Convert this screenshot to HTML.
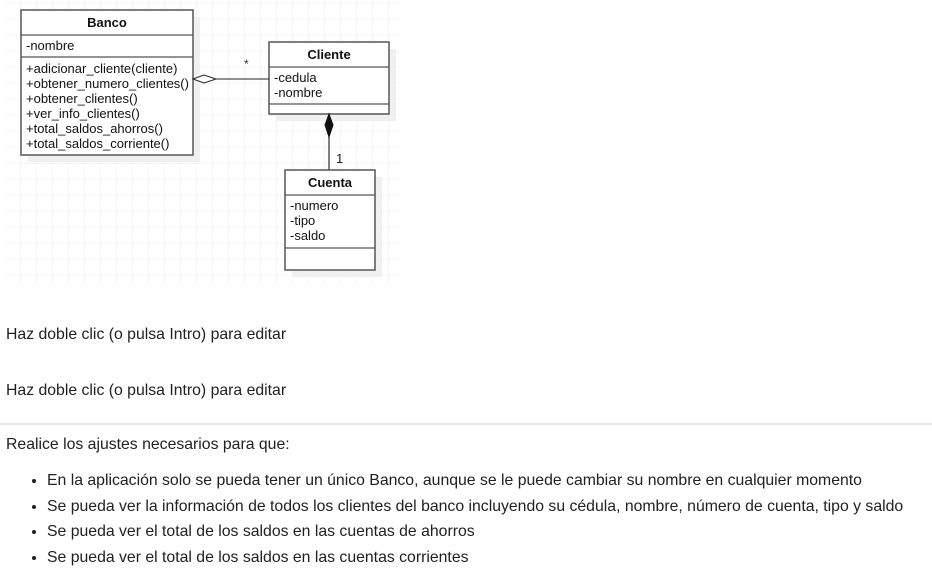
<!DOCTYPE html>
<html><head><meta charset="utf-8"><style>
body{margin:0;width:932px;height:576px;background:#fff;font-family:"Liberation Sans",sans-serif;color:#212121;position:relative;overflow:hidden}
.t{position:absolute;left:6px;font-size:15.8px;white-space:nowrap}
ul{position:absolute;left:0;top:468px;margin:0;padding-left:47px;font-size:15.8px;line-height:25.7px}
li{white-space:nowrap}
</style></head><body>
<svg width="410" height="290" style="position:absolute;left:0;top:0" font-family="Liberation Sans, sans-serif">
<defs><pattern id="g" width="16" height="16" patternUnits="userSpaceOnUse" x="5" y="4"><path d="M16 0V16H0" fill="none" stroke="#ececec" stroke-width="1"/></pattern></defs>
<rect x="5" y="0" width="395" height="285" fill="url(#g)"/>
<g fill="#f0f0f0"><rect x="28" y="17" width="172" height="145"/><rect x="276" y="49" width="120" height="72"/><rect x="292" y="177" width="90" height="100"/></g>
<g fill="#fff" stroke="#555" stroke-width="1.5">
<rect x="21" y="10" width="172" height="145"/><rect x="269" y="42" width="120" height="72"/><rect x="285" y="170" width="90" height="100"/>
</g>
<g stroke="#555" stroke-width="1.2">
<line x1="21" y1="35" x2="193" y2="35"/><line x1="21" y1="57" x2="193" y2="57"/>
<line x1="269" y1="67" x2="389" y2="67"/><line x1="269" y1="104" x2="389" y2="104"/>
<line x1="285" y1="195" x2="375" y2="195"/><line x1="285" y1="248" x2="375" y2="248"/>
</g>
<line x1="216" y1="79" x2="269" y2="79" stroke="#222"/>
<path d="M193 79L204 75L216 79L204 83Z" fill="#fff" stroke="#222"/>
<line x1="329" y1="137" x2="329" y2="170" stroke="#555" stroke-width="1.5"/>
<path d="M329 114L333 125L329 137L325 125Z" fill="#111" stroke="#111"/>
<text x="244" y="68" font-size="12" fill="#333">*</text>
<text x="336" y="163" font-size="13" fill="#222">1</text>
<g font-size="13" fill="#111" font-weight="bold" text-anchor="middle">
<text x="107" y="27">Banco</text><text x="329" y="59">Cliente</text><text x="330" y="187">Cuenta</text></g>
<g font-size="13" fill="#111">
<text x="26" y="50">-nombre</text>
<text x="26" y="73">+adicionar_cliente(cliente)</text>
<text x="26" y="88">+obtener_numero_clientes()</text>
<text x="26" y="103">+obtener_clientes()</text>
<text x="26" y="118">+ver_info_clientes()</text>
<text x="26" y="133">+total_saldos_ahorros()</text>
<text x="26" y="148">+total_saldos_corriente()</text>
<text x="274" y="82">-cedula</text><text x="274" y="97">-nombre</text>
<text x="290" y="210">-numero</text><text x="290" y="225">-tipo</text><text x="290" y="240">-saldo</text>
</g>
</svg>
<div class="t" style="top:326px">Haz doble clic (o pulsa Intro) para editar</div>
<div class="t" style="top:382px">Haz doble clic (o pulsa Intro) para editar</div>
<div style="position:absolute;left:0;top:423px;width:932px;height:2px;background:#e8e8e8"></div>
<div class="t" style="top:436px">Realice los ajustes necesarios para que:</div>
<ul>
<li>En la aplicación solo se pueda tener un único Banco, aunque se le puede cambiar su nombre en cualquier momento</li>
<li>Se pueda ver la información de todos los clientes del banco incluyendo su cédula, nombre, número de cuenta, tipo y saldo</li>
<li>Se pueda ver el total de los saldos en las cuentas de ahorros</li>
<li>Se pueda ver el total de los saldos en las cuentas corrientes</li>
</ul>
</body></html>
